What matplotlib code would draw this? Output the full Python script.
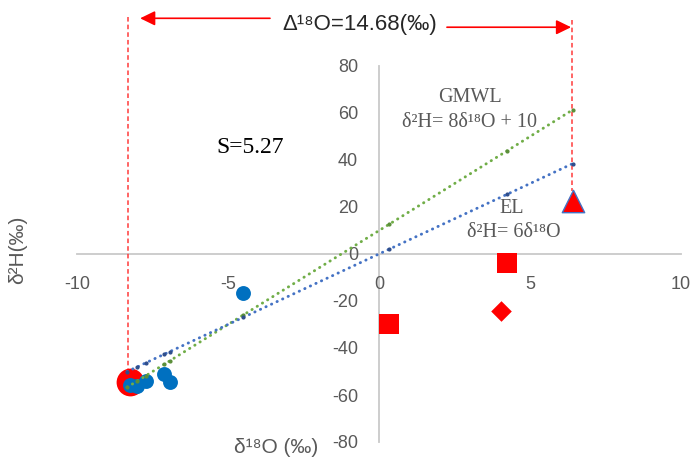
import matplotlib
matplotlib.use("Agg")
import matplotlib.pyplot as plt

# ---- data ----
blue_x = [-4.5, -8.25, -8.01, -7.72, -7.12, -6.92]
blue_y = [-16.5, -55.9, -56.3, -54.2, -51.2, -54.6]

red_circle_x = [-8.26]
red_circle_y = [-54.6]

red_square_x = [0.33, 4.24]
red_square_y = [-30.0, -4.0]

red_diamond_x = [4.04]
red_diamond_y = [-24.4]

red_triangle_x = [6.42]
red_triangle_y = [22.6]

line_x = [-8.34, -8.01, -7.72, -7.12, -6.92, -4.5, 0.33, 4.24, 6.42]
gmwl_y = [-56.7, -54.1, -51.8, -47.0, -45.4, -26.0, 12.6, 43.9, 61.4]
el_y = [-50.0, -48.1, -46.3, -42.7, -41.5, -27.0, 2.0, 25.4, 38.5]

x_ticks = [-10, -5, 0, 5, 10]
y_ticks = [-80, -60, -40, -20, 0, 20, 40, 60, 80]

delta_left_x = -8.3
delta_right_x = 6.38

GRAY = "#595959"
SANS = ["Liberation Sans", "DejaVu Sans"]
SERIF = ["Liberation Serif", "DejaVu Serif"]

fig = plt.figure(figsize=(6.93, 4.59), dpi=100)
ax = fig.add_axes([77 / 693, 1 - 442 / 459, 604 / 693, 376 / 459])
ax.set_xlim(-10, 10)
ax.set_ylim(-80, 80)

for s in ["top", "right"]:
    ax.spines[s].set_visible(False)
ax.spines["left"].set_position(("data", 0))
ax.spines["bottom"].set_position(("data", 0))
for s in ["left", "bottom"]:
    ax.spines[s].set_color("#C9C9C9")
    ax.spines[s].set_linewidth(1.3)
    ax.spines[s].set_zorder(0.5)

ax.set_xticks(x_ticks)
ax.set_yticks(y_ticks)
ax.set_xticklabels([str(v) for v in x_ticks])
ax.set_yticklabels([str(v) for v in y_ticks])
ax.tick_params(axis="x", length=0, pad=16, labelsize=13, labelcolor=GRAY)
ax.tick_params(axis="y", length=0, pad=15, labelsize=13, labelcolor=GRAY)
for lab in ax.get_xticklabels() + ax.get_yticklabels():
    lab.set_family(SANS)

# points
ax.scatter(red_circle_x, red_circle_y, s=400, color="#FF0000", zorder=2, linewidths=0)
ax.scatter(blue_x, blue_y, s=115, color="#0070C0", zorder=3, linewidths=0)
ax.scatter(red_square_x, red_square_y, s=190, marker="s", color="#FF0000", zorder=3, linewidths=0)
ax.scatter(red_diamond_x, red_diamond_y, s=110, marker="D", color="#FF0000", zorder=3, linewidths=0)
ax.scatter(red_triangle_x, red_triangle_y, s=260, marker="^", facecolor="#FF0000",
           edgecolor="#4472C4", linewidths=1.0, zorder=3)

# trend lines (round dotted)
ax.plot(line_x, gmwl_y, color="#70AD47", lw=2.1, linestyle=(0, (0.1, 2.0)),
        dash_capstyle="round", zorder=4)
ax.plot(line_x, el_y, color="#4472C4", lw=2.1, linestyle=(0, (0.1, 2.0)),
        dash_capstyle="round", zorder=4)
ax.plot(line_x, gmwl_y, linestyle="none", marker="o", ms=2.0, color="#5B8F3A", zorder=5)
ax.plot(line_x, el_y, linestyle="none", marker="o", ms=2.0, color="#2F4E8C", zorder=5)

# red dashed verticals
ax.plot([delta_left_x, delta_left_x], [101, -48.8], color="#FF3B3B", lw=1.1,
        linestyle=(0, (3, 2)), clip_on=False, zorder=1)
ax.plot([delta_right_x, delta_right_x], [99.5, 27], color="#FF3B3B", lw=1.1,
        linestyle=(0, (3, 2)), clip_on=False, zorder=1)

# arrows
ax.annotate("", xy=(-7.91, 100.3), xytext=(-3.61, 100.3), annotation_clip=False,
            arrowprops=dict(arrowstyle="-|>,head_length=0.45,head_width=0.22",
                            color="#FF0000", lw=1.2, mutation_scale=20, shrinkA=0, shrinkB=0))
ax.annotate("", xy=(6.36, 96.5), xytext=(2.25, 96.5), annotation_clip=False,
            arrowprops=dict(arrowstyle="-|>,head_length=0.45,head_width=0.22",
                            color="#FF0000", lw=1.2, mutation_scale=20, shrinkA=0, shrinkB=0))

ax.text(-0.63, 97.6, "Δ¹⁸O=14.68(‰)", ha="center", va="center", fontsize=16,
        family=SANS, color="#262626", clip_on=False)

# annotations
ax.text(-4.27, 45.4, "S=5.27", ha="center", va="center", fontsize=17, family=SERIF, color="black")
ax.text(3.01, 66.7, "GMWL", ha="center", va="center", fontsize=14.5, family=SERIF, color=GRAY)
ax.text(3.01, 56.0, "δ²H= 8δ¹⁸O + 10", ha="center", va="center", fontsize=14.5, family=SERIF, color=GRAY)
ax.text(4.40, 19.4, "EL", ha="center", va="center", fontsize=14.5, family=SERIF, color=GRAY)
ax.text(4.47, 9.2, "δ²H= 6δ¹⁸O", ha="center", va="center", fontsize=14.5, family=SERIF, color=GRAY)

# axis titles
fig.text(18 / 693, 1 - 250 / 459, "δ²H(‰)", rotation=90, ha="center", va="center",
         fontsize=15, family=SANS, color=GRAY)
fig.text(276 / 693, 2 / 459, "δ¹⁸O (‰)", ha="center", va="bottom",
         fontsize=15, family=SANS, color=GRAY)

fig.savefig("out.png", dpi=100)
